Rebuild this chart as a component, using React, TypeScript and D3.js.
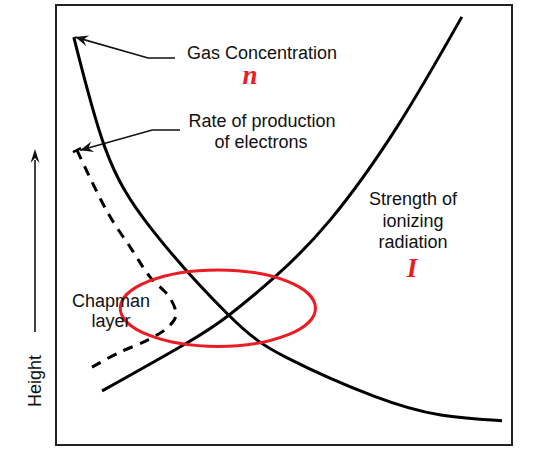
import React, { useLayoutEffect, useRef, useState } from "react";
import * as d3 from "d3";

// Data (x: relative magnitude 0-100, y: height 0-100)
const gasX = [3.9, 10.7, 20.8, 37.9, 50.7, 69.7, 84.4, 97.8];
const gasY = [92.7, 67.7, 49.3, 29.5, 19.8, 11.1, 6.8, 5.5];

const radX = [10.1, 28.7, 37.9, 48.0, 60.1, 74.8, 89.0];
const radY = [12.3, 23.2, 29.5, 38.2, 51.1, 72.3, 97.3];

const rateX = [4.6, 11.4, 16.7, 20.6, 25.0, 26.3, 24.6, 20.2, 13.6, 7.9];
const rateY = [67.0, 52.7, 44.3, 38.2, 33.4, 29.5, 26.8, 23.9, 20.9, 17.7];

// Chapman layer highlight ellipse (center x, center y, radius x, radius y)
const ellipseSpec = [35.5, 31.1, 21.4, 8.7];

// Annotation arrows: [tipX, tipY, elbowX, elbowY, endX, endY] in data units
const gasArrow = [4.2, 92.7, 20.2, 87.95, 26.1, 87.95];
const rateArrow = [5.3, 67.0, 21.1, 71.6, 27.2, 71.6];

const W = 548;
const H = 457;
const frame = { left: 56, top: 5, right: 512, bottom: 445 };

const x = d3.scaleLinear().domain([0, 100]).range([frame.left, frame.right]);
const y = d3.scaleLinear().domain([0, 100]).range([frame.bottom, frame.top]);

const zip = (xs: number[], ys: number[]) => xs.map((v, i) => [v, ys[i]] as [number, number]);

const smoothLine = d3
  .line<[number, number]>()
  .x((d) => x(d[0]))
  .y((d) => y(d[1]))
  .curve(d3.curveNatural);

const looseLine = d3
  .line<[number, number]>()
  .x((d) => x(d[0]))
  .y((d) => y(d[1]))
  .curve(d3.curveCatmullRom.alpha(0.5));

const sans = "'Liberation Sans', Arial, Helvetica, sans-serif";
const serif = "'Liberation Serif', 'Times New Roman', serif";
const RED = "#ec1c24";

function arrowHead(tx: number, ty: number, fx: number, fy: number, len = 13, half = 5.5) {
  const ang = Math.atan2(ty - fy, tx - fx);
  const bx = tx - len * Math.cos(ang);
  const by = ty - len * Math.sin(ang);
  const nx = -Math.sin(ang);
  const ny = Math.cos(ang);
  const mx = tx - len * 0.65 * Math.cos(ang);
  const my = ty - len * 0.65 * Math.sin(ang);
  return `M${tx},${ty}L${bx + nx * half},${by + ny * half}L${mx},${my}L${bx - nx * half},${by - ny * half}Z`;
}

function Annot({ a }: { a: number[] }) {
  const tx = x(a[0]), ty = y(a[1]), ex = x(a[2]), ey = y(a[3]), hx = x(a[4]), hy = y(a[5]);
  return (
    <g>
      <path d={`M${hx},${hy}L${ex},${ey}L${tx},${ty}`} fill="none" stroke="#111" strokeWidth={1.6} />
      <path d={arrowHead(tx, ty, ex, ey)} fill="#111" />
    </g>
  );
}

export default function App() {
  const gas = zip(gasX, gasY);
  const rad = zip(radX, radY);
  const rate = zip(rateX, rateY);
  const [ecx, ecy, erx, ery] = ellipseSpec;
  const dashRef = useRef<SVGPathElement>(null);
  const [dash, setDash] = useState("10 8");

  useLayoutEffect(() => {
    if (!dashRef.current) return;
    const L = dashRef.current.getTotalLength();
    const d = 10;
    const n = Math.max(1, Math.round((L - d) / 18));
    const gap = (L - d) / n - d;
    setDash(`${d} ${gap.toFixed(2)}`);
  }, []);

  // tick at the top of the dashed line
  const p0 = [x(rateX[0]), y(rateY[0])];
  const p1 = [x(rateX[1]), y(rateY[1])];
  const ang = Math.atan2(p1[1] - p0[1], p1[0] - p0[0]);
  const tnx = -Math.sin(ang) * 4.5;
  const tny = Math.cos(ang) * 4.5;

  return (
    <svg
      width={W}
      height={H}
      style={{ position: "absolute", left: 0, top: 0, background: "#fff" }}
      fontFamily={sans}
    >
      <rect x={0} y={0} width={W} height={H} fill="#fff" />
      <rect
        x={frame.left}
        y={frame.top}
        width={frame.right - frame.left}
        height={frame.bottom - frame.top}
        fill="none"
        stroke="#222"
        strokeWidth={2}
      />

      {/* Height axis arrow */}
      <line x1={35} y1={332} x2={35} y2={160} stroke="#111" strokeWidth={1.6} />
      <path d={arrowHead(35, 149, 35, 200, 14, 4.5)} fill="#111" />
      <text x={41} y={381} transform="rotate(-90 41 381)" textAnchor="middle" fontSize={18} fill="#111">
        Height
      </text>

      {/* curves */}
      <path d={smoothLine(gas) || ""} fill="none" stroke="#000" strokeWidth={3} />
      <path d={smoothLine(rad) || ""} fill="none" stroke="#000" strokeWidth={3} />
      <path
        ref={dashRef}
        d={looseLine(rate) || ""}
        fill="none"
        stroke="#000"
        strokeWidth={3}
        strokeDasharray={dash}
      />
      <line
        x1={p0[0] - tnx}
        y1={p0[1] - tny}
        x2={p0[0] + tnx}
        y2={p0[1] + tny}
        stroke="#000"
        strokeWidth={2.5}
      />

      {/* ellipse */}
      <ellipse
        cx={x(ecx)}
        cy={y(ecy)}
        rx={x(erx) - x(0)}
        ry={y(0) - y(ery)}
        fill="none"
        stroke={RED}
        strokeWidth={3}
      />

      {/* annotations */}
      <Annot a={gasArrow} />
      <Annot a={rateArrow} />

      <g fontSize={18} fill="#111" textAnchor="middle">
        <text x={262} y={59}>Gas Concentration</text>
        <text x={262} y={127}>Rate of production</text>
        <text x={261} y={148}>of electrons</text>
        <text x={413} y={205}>Strength of</text>
        <text x={413} y={227}>ionizing</text>
        <text x={413} y={248}>radiation</text>
        <text x={111} y={307}>Chapman</text>
        <text x={111} y={327}>layer</text>
      </g>
      <g fontFamily={serif} fontStyle="italic" fontWeight="bold" fill={RED} textAnchor="middle" fontSize={27}>
        <text x={250} y={84}>n</text>
        <text x={412} y={277}>I</text>
      </g>
    </svg>
  );
}
